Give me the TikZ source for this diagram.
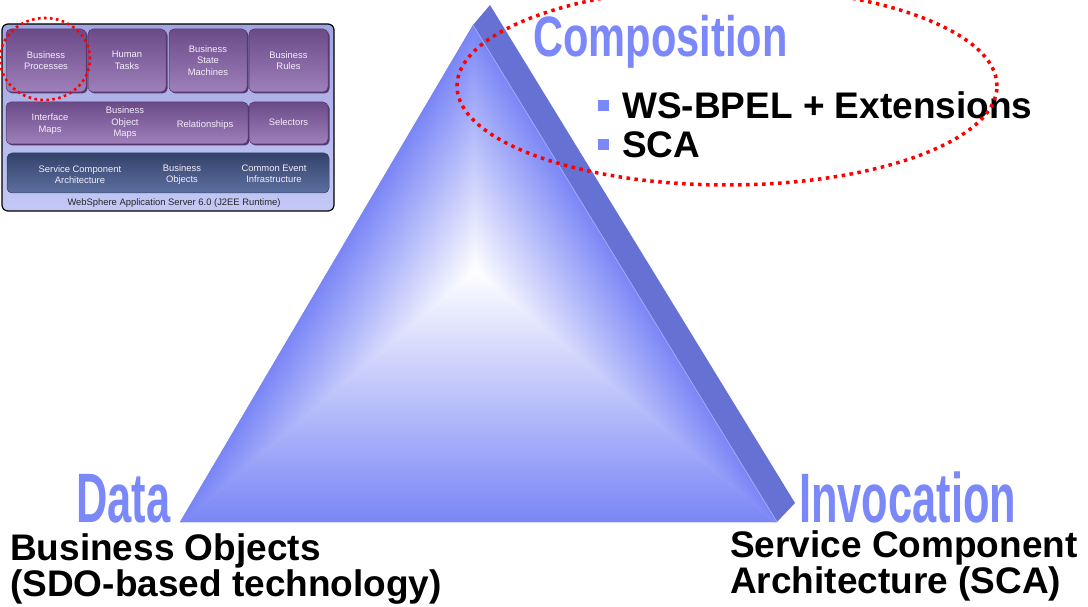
\documentclass[tikz,border=0pt]{standalone}
\usepackage{fontspec}
\setmainfont{Liberation Sans}
\newfontfamily\headfont[FakeStretch=0.62]{Liberation Sans}
\newfontfamily\compfont[FakeStretch=0.73]{Liberation Sans}
\usetikzlibrary{shadows,calc}

\definecolor{labelblue}{RGB}{123,136,250}
\definecolor{faceblue}{RGB}{122,134,246}
\definecolor{sideblue}{RGB}{101,114,212}
\definecolor{edgeblue}{RGB}{160,170,246}
\definecolor{insettop}{RGB}{160,164,224}
\definecolor{insetbot}{RGB}{196,200,246}
\definecolor{purpletop}{RGB}{107,74,136}
\definecolor{purplebot}{RGB}{158,128,186}
\definecolor{purpleedge}{RGB}{84,56,110}
\definecolor{slatetop}{RGB}{52,66,106}
\definecolor{slatebot}{RGB}{92,112,160}
\definecolor{boxtext}{RGB}{244,238,250}

\tikzset{
  headlabel/.style={anchor=base west, inner sep=0, text=labelblue, text depth=0pt,
    font=\headfont\bfseries\fontsize{70}{70}\selectfont},
  bodytext/.style={anchor=base west, inner sep=0, text height=27pt, text depth=8pt,
    font=\bfseries\fontsize{37}{37}\selectfont},
  bulletbox/.style={fill=labelblue, inner sep=0, minimum size=11pt},
  pbox/.style={rounded corners=5pt, top color=purpletop, bottom color=purplebot,
    draw=purpleedge, line width=0.5pt, inner sep=0,
    drop shadow={shadow xshift=1.5pt, shadow yshift=-1.5pt, fill=purpleedge, opacity=1}},
  slatebox/.style={rounded corners=5pt, top color=slatetop, bottom color=slatebot,
    draw=slatetop, line width=0.5pt, inner sep=0},
  boxlabel/.style={inner sep=0, text=boxtext, align=center,
    font=\fontsize{9.4}{11.5}\selectfont},
  redring/.style={draw=red, dash pattern=on 3.5pt off 4.5pt, line width=3.5pt},
  smallring/.style={draw=red, dash pattern=on 2.6pt off 3.4pt, line width=2.6pt}
}

\begin{document}
\begin{tikzpicture}[x=1pt,y=1pt]
\useasboundingbox (0,0) rectangle (1088,-607);
\fill[white] (0,0) rectangle (1088,-607);

% ---------- pyramid ----------
\coordinate (apex) at (473,-25);
\coordinate (bl) at (180,-522);
\coordinate (br) at (777,-522);
\coordinate (back) at (490,-5);
\coordinate (backr) at (795,-503);
\coordinate (ctr) at (475,-270);

\fill[sideblue] (apex) -- (back) -- (backr) -- (br) -- cycle;
\fill[faceblue] (apex) -- (bl) -- (br) -- cycle;

% front face: white glow fading linearly towards each edge
\begin{scope}
  \clip (apex) -- (bl) -- (br) -- cycle;
  % lower sector
  \begin{scope}
    \clip (ctr) -- (bl) -- (br) -- cycle;
    \shade[bottom color=faceblue, top color=white] (170,-522) rectangle (790,-270);
  \end{scope}
  % left sector, slightly overlapping its neighbours
  \begin{scope}
    \clip ($(apex)+(2,0)$) -- ($(ctr)+(2,-2)$) -- ($(bl)+(2,-2)$)
      -- (100,-540) -- (100,0) -- cycle;
    \begin{scope}[transform canvas={shift={(bl)}, rotate=59.48}]
      \shade[top color=faceblue, bottom color=white] (-20,-126.1) rectangle (600,0);
    \end{scope}
  \end{scope}
  % right sector
  \begin{scope}
    \clip (apex) -- ($(ctr)+(0,-2.5)$) -- ($(br)+(-2,-2)$)
      -- (900,-540) -- (900,0) -- cycle;
    \begin{scope}[transform canvas={shift={(br)}, rotate=121.46}]
      \shade[top color=white, bottom color=faceblue] (-20,0) rectangle (600,126.1);
    \end{scope}
  \end{scope}
\end{scope}
\draw[edgeblue, line width=0.8pt] (apex) -- (br);

% ---------- corner labels ----------
\node[headlabel] (data) at (76,-522) {Data};
\node[headlabel] (invoc) at (799,-522) {Invocation};
\node[anchor=base west, inner sep=0, text=labelblue,
  font=\compfont\bfseries\fontsize{57}{57}\selectfont] (comp) at (533,-57) {Composition};

\node[bodytext] (bo1) at (10,-560) {Business Objects};
\node[bodytext] (bo2) at (10,-596) {(SDO-based technology)};
\node[bodytext] (sc1) at (730,-557) {Service Component};
\node[bodytext] (sc2) at (730,-593) {Architecture (SCA)};

\node[bulletbox] (b1) at (603.5,-105.5) {};
\node[bulletbox] (b2) at (603.5,-144.5) {};
\node[bodytext] (ws) at (622,-119) {WS-BPEL + Extensions};
\node[bodytext] (sca) at (622,-158) {SCA};

% ---------- runtime stack ----------
\shadedraw[rounded corners=6pt, top color=insettop, bottom color=insetbot,
  draw=black, line width=1.2pt] (2,-24) rectangle (334,-211);

\node[pbox, minimum width=80pt, minimum height=63pt] (bp) at (46,-60.5) {};
\node[pbox, minimum width=78pt, minimum height=63pt] (ht) at (127,-60.5) {};
\node[pbox, minimum width=78pt, minimum height=63pt] (bsm) at (208,-60.5) {};
\node[pbox, minimum width=79pt, minimum height=63pt] (br2) at (288.5,-60.5) {};
\node[pbox, minimum width=242pt, minimum height=42pt] (maps) at (127,-123) {};
\node[pbox, minimum width=79pt, minimum height=42pt] (sel) at (288.5,-123) {};
\node[slatebox, minimum width=322pt, minimum height=40pt] (core) at (168,-173) {};

\node[boxlabel] at (bp) {Business\\Processes};
\node[boxlabel] at (ht) {Human\\Tasks};
\node[boxlabel] at (bsm) {Business\\State\\Machines};
\node[boxlabel] at (br2) {Business\\Rules};
\node[boxlabel] (im) at (50,-124) {Interface\\Maps};
\node[boxlabel] (bom) at (125,-123) {Business\\Object\\Maps};
\node[boxlabel] (rel) at (205,-125) {Relationships};
\node[boxlabel] at (288.5,-122) {Selectors};
\node[boxlabel] (scaarch) at (80,-174.5) {Service Component\\Architecture};
\node[boxlabel] (bobj) at (182,-174.5) {Business\\Objects};
\node[boxlabel] (cei) at (274,-174) {Common Event\\Infrastructure};
\node[inner sep=0, text=black!85, font=\fontsize{9.4}{11}\selectfont] (was) at (174,-203)
  {WebSphere Application Server 6.0 (J2EE Runtime)};

% ---------- highlight rings ----------
\draw[smallring] (45,-59) ellipse [x radius=45, y radius=41];
\draw[redring] (727,-86) ellipse [x radius=270, y radius=99];
\end{tikzpicture}
\end{document}
